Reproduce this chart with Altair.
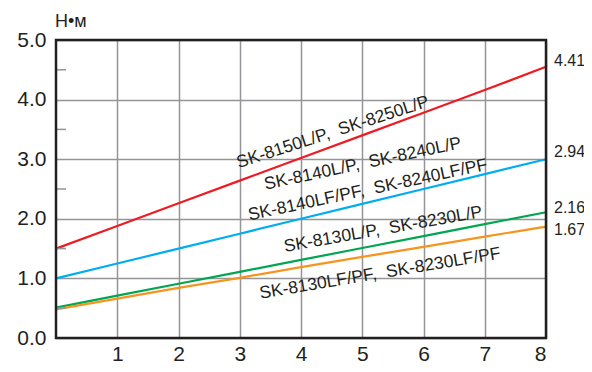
import altair as alt
import pandas as pd

# ---- data ----
x_vals = [0, 1, 2, 3, 4, 5, 6, 7, 8]
red_vals = [1.50, 1.88, 2.26, 2.64, 3.02, 3.40, 3.78, 4.16, 4.55]
blue_vals = [1.00, 1.25, 1.50, 1.75, 2.00, 2.25, 2.50, 2.75, 3.00]
green_vals = [0.51, 0.71, 0.91, 1.11, 1.31, 1.51, 1.71, 1.91, 2.11]
orange_vals = [0.48, 0.66, 0.84, 1.01, 1.19, 1.36, 1.53, 1.70, 1.87]
series_names = ["red", "blue", "green", "orange"]
series_colors = ["#ed1c24", "#00aeef", "#00a651", "#f7941d"]

curve_labels = [
    "SK-8150L/P,\u00a0 SK-8250L/P",
    "SK-8140L/P,\u00a0 SK-8240L/P",
    "SK-8140LF/PF,\u00a0 SK-8240LF/PF",
    "SK-8130L/P,\u00a0 SK-8230L/P",
    "SK-8130LF/PF,\u00a0 SK-8230LF/PF",
]
curve_label_x = [4.52, 5.01, 5.09, 5.34, 5.29]
curve_label_y = [3.45, 2.92, 2.48, 1.82, 1.08]
curve_label_angle = [342, 348, 348, 350, 350.5]

end_labels = ["4.41", "2.94", "2.16", "1.67"]
end_label_y = [4.65, 3.12, 2.18, 1.82]

x_ticks = [1, 2, 3, 4, 5, 6, 7, 8]
y_ticks = [0, 1, 2, 3, 4, 5]
half_ticks = [0.5, 1.5, 2.5, 3.5, 4.5]
unit_label = "Н•м"

W, H = 490, 298
TXT = "#231f20"
GRID = "#939598"
FONT = "Liberation Sans"

rows = []
for name, vals in zip(series_names, [red_vals, blue_vals, green_vals, orange_vals]):
    for xv, yv in zip(x_vals, vals):
        rows.append({"x": xv, "y": yv, "s": name})
lines_df = pd.DataFrame(rows)

xscale = alt.Scale(domain=[0, 8], nice=False, zero=False)
yscale = alt.Scale(domain=[0, 5], nice=False)

lines = alt.Chart(lines_df).mark_line(strokeWidth=2.2).encode(
    x=alt.X("x:Q", scale=xscale,
            axis=alt.Axis(values=x_ticks, title=None, grid=True, gridColor=GRID,
                          gridWidth=1.5, gridOpacity=1, domain=False, ticks=False,
                          labelFontSize=21, labelColor=TXT, labelFont=FONT,
                          labelPadding=5, format="d")),
    y=alt.Y("y:Q", scale=yscale,
            axis=alt.Axis(values=y_ticks, title=None, grid=True, gridColor=GRID,
                          gridWidth=1.5, gridOpacity=1, domain=False, ticks=False,
                          labelFontSize=21, labelColor=TXT, labelFont=FONT,
                          labelPadding=10, format=".1f")),
    color=alt.Color("s:N", scale=alt.Scale(domain=series_names, range=series_colors),
                    legend=None),
    detail="s:N",
)

half_df = pd.DataFrame({"y": half_ticks})
halfs = alt.Chart(half_df).mark_rule(color=GRID, strokeWidth=1.5).encode(
    y=alt.Y("y:Q", scale=yscale),
    x=alt.value(0), x2=alt.value(10),
)

lab_df = pd.DataFrame({"t": curve_labels, "x": curve_label_x, "y": curve_label_y,
                       "a": curve_label_angle})
labels = alt.Chart(lab_df).mark_text(fontSize=17.5, font=FONT, color=TXT,
                                     align="center", baseline="middle").encode(
    x=alt.X("x:Q", scale=xscale),
    y=alt.Y("y:Q", scale=yscale),
    text="t:N",
    angle=alt.Angle("a:Q", scale=None),
)

end_df = pd.DataFrame({"t": end_labels, "y": end_label_y, "x": [8] * len(end_labels)})
ends = alt.Chart(end_df).mark_text(fontSize=16, font=FONT, color=TXT,
                                   align="left", baseline="middle", dx=8).encode(
    x=alt.X("x:Q", scale=xscale),
    y=alt.Y("y:Q", scale=yscale),
    text="t:N",
)

one = pd.DataFrame({"t": [unit_label]})
unit = alt.Chart(one).mark_text(fontSize=18, font=FONT, color=TXT,
                                align="left", baseline="alphabetic").encode(
    x=alt.value(-1), y=alt.value(-13), text="t:N",
)

frame = alt.Chart(one).mark_rect(fillOpacity=0, stroke=TXT, strokeWidth=2.5).encode(
    x=alt.value(0), x2=alt.value(W), y=alt.value(0), y2=alt.value(H),
)

chart = alt.layer(lines, halfs, labels, ends, unit, frame).properties(
    width=W, height=H,
    padding={"left": 48, "top": 32, "right": 38, "bottom": 26},
    autosize=alt.AutoSizeParams(type="none"),
    background="white",
).configure_view(stroke=None)

chart.save("out.html", embed_options={"renderer": "svg", "actions": False})
